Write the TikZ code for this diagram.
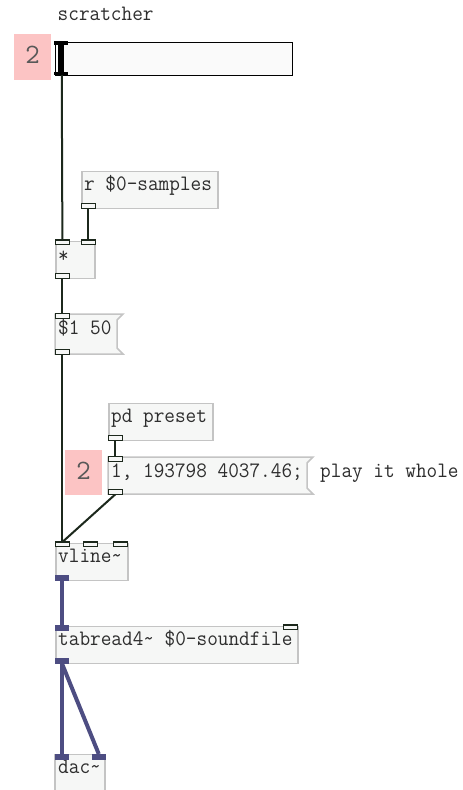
\documentclass[tikz,border=0pt]{standalone}
\usepackage{fontspec}
\newfontfamily\pdfont[FakeStretch=0.94]{Latin Modern Mono}
\newfontfamily\numfont{Latin Modern Mono}
\definecolor{boxfill}{HTML}{F6F7F6}
\definecolor{boxline}{HTML}{C4C4C4}
\definecolor{ctl}{HTML}{1C281C}
\definecolor{sig}{HTML}{4D4D82}
\definecolor{pink}{HTML}{FCC4C4}
\definecolor{txt}{HTML}{2E2E2E}
\tikzset{
  objbox/.style={draw=boxline, fill=boxfill, line width=1.5pt},
  pdtext/.style={anchor=base west, inner sep=0pt, text=txt, font=\pdfont\fontsize{22}{22}\selectfont},
  inl/.style={draw=ctl, fill=boxfill, line width=1.3pt, rectangle, minimum width=12.5pt, minimum height=3.5pt, inner sep=0pt, anchor=north west},
  sinl/.style={draw=sig, fill=sig, line width=0.5pt, rectangle, minimum width=13pt, minimum height=4.5pt, inner sep=0pt, anchor=north west},
  ctlline/.style={draw=ctl, line width=2pt},
  sigline/.style={draw=sig, line width=4pt},
  pinkbox/.style={fill=pink},
  bignum/.style={text=txt!80, font=\numfont\fontsize{28}{28}\selectfont, inner sep=0pt},
  cell/.style={rectangle, inner sep=0pt, anchor=north west}
}
\begin{document}
\begin{tikzpicture}[x=1pt, y=-1pt]
\clip (0,0) rectangle (463,790);
\fill[white] (0,0) rectangle (463,790);

% scratcher label
\node[pdtext] (lbl) at (57.5,20) {scratcher};

% pink number boxes
\fill[pinkbox] (14,34) rectangle (51,80);
\node[bignum] (n1) at (32.5,55) {2};
\fill[pinkbox] (65,450) rectangle (102,495);
\node[bignum] (n2) at (83.5,471) {2};

% slider
\node[cell, draw=black, fill=white!98!black, line width=1.5pt, minimum width=237pt, minimum height=33pt] (slider) at (54.5,41.5) {};
\fill[black] (58,41) rectangle (63.5,75);
\fill[black] (54,41) rectangle (68,44.5);
\fill[black] (54,71.5) rectangle (68,75);
\coordinate (sl-o) at (61.75,75);

% r $0-samples
\node[cell, objbox, minimum width=136pt, minimum height=37pt] (rs) at (81,170.5) {};
\node[pdtext] (rs-t) at (84,190.5) {r \$0-samples};
\node[inl] (rs-o0) at (81.5,203.5) {};

% *
\node[cell, objbox, minimum width=39pt, minimum height=37pt] (mul) at (55,240.5) {};
\node[pdtext] (mul-t) at (58,262) {*};
\node[inl] (mul-i0) at (55.5,240) {};
\node[inl] (mul-i1) at (81.5,240) {};
\node[inl] (mul-o0) at (55.5,273.5) {};

% $1 50 message
\node[cell, minimum width=68pt, minimum height=40pt] (m1) at (55,314) {};
\draw[objbox] (55,314) -- (123,314) -- (117,320) -- (117,348) -- (123,354) -- (55,354) -- cycle;
\node[pdtext] (m1-t) at (58,334.5) {\$1 50};
\node[inl] (m1-i0) at (55.5,313.5) {};
\node[inl] (m1-o0) at (55.5,349.5) {};

% pd preset
\node[cell, objbox, minimum width=104pt, minimum height=37pt] (pp) at (108,402.5) {};
\node[pdtext] (pp-t) at (111,422.5) {pd preset};
\node[inl] (pp-o0) at (108.5,435.5) {};

% 1, 193798 4037.46; message
\node[cell, minimum width=205pt, minimum height=37pt] (m2) at (108,457) {};
\draw[objbox] (108,457) -- (313,457) -- (307,463) -- (307,488) -- (313,494) -- (108,494) -- cycle;
\node[pdtext] (m2-t) at (111,477) {1, 193798 4037.46;};
\node[inl] (m2-i0) at (108.5,456.5) {};
\node[inl] (m2-o0) at (108.5,489.5) {};
\node[pdtext] (cmt) at (320,477.5) {play it whole};

% vline~
\node[cell, objbox, minimum width=72pt, minimum height=37pt] (vl) at (55,542.5) {};
\node[pdtext] (vl-t) at (58,562.5) {vline\char"7E};
\node[inl] (vl-i0) at (55.5,542) {};
\node[inl] (vl-i1) at (83.5,542) {};
\node[inl] (vl-i2) at (113.5,542) {};
\node[sinl] (vl-o0) at (55,575) {};

% tabread4~
\node[cell, objbox, minimum width=242pt, minimum height=37pt] (tb) at (55,625.5) {};
\node[pdtext] (tb-t) at (58,645.5) {tabread4\char"7E{} \$0-soundfile};
\node[sinl] (tb-i0) at (55,625) {};
\node[inl] (tb-i1) at (283.5,625) {};
\node[sinl] (tb-o0) at (55,658) {};

% dac~
\draw[objbox] (55,800) -- (55,754.5) -- (105,754.5) -- (105,800);
\node[cell, minimum width=50pt, minimum height=36pt] (dac) at (55,754.5) {};
\node[pdtext] (dac-t) at (58,773.5) {dac\char"7E};
\node[sinl] (dac-i0) at (55,754) {};
\node[sinl] (dac-i1) at (92,754) {};

% control connections
\draw[ctlline] (sl-o) -- (mul-i0.north);
\draw[ctlline] (rs-o0.south) -- (mul-i1.north);
\draw[ctlline] (mul-o0.south) -- (m1-i0.north);
\draw[ctlline] (m1-o0.south) -- (vl-i0.north);
\draw[ctlline] (pp-o0.south) -- (m2-i0.north);
\draw[ctlline] (m2-o0.south) -- (vl-i0.north);

% signal connections
\draw[sigline] (vl-o0.south) -- (tb-i0.north);
\draw[sigline] (tb-o0.south) -- (dac-i0.north);
\draw[sigline] (tb-o0.south) -- (dac-i1.north);

% redraw inlets over lines
\foreach \n in {mul-i0,mul-i1,mul-o0,m1-i0,m1-o0,rs-o0,pp-o0,m2-i0,m2-o0,vl-i0,vl-i1,vl-i2,tb-i1}
  \draw[draw=ctl, fill=boxfill, line width=1.3pt] (\n.north west) rectangle (\n.south east);
\foreach \n in {vl-o0,tb-i0,tb-o0,dac-i0,dac-i1}
  \fill[sig] (\n.north west) rectangle (\n.south east);
\end{tikzpicture}
\end{document}
